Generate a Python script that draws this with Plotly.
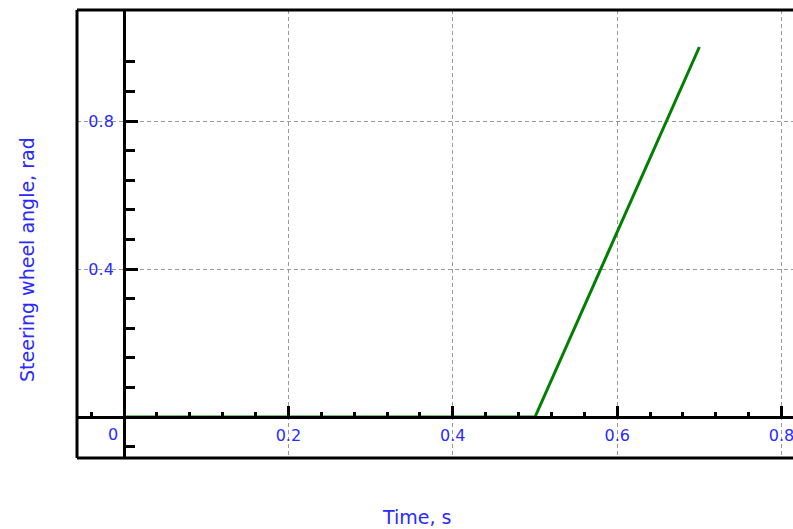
import plotly.graph_objects as go

# Data
time_s = [0.0, 0.5, 0.7]
steer_angle_rad = [0.0, 0.0, 1.0]

x_tick_vals = [0.2, 0.4, 0.6, 0.8]
x_tick_text = ["0.2", "0.4", "0.6", "0.8"]
y_tick_vals = [0.4, 0.8]
y_tick_text = ["0.4", "0.8"]
x_minor_ticks = [-0.04, 0.04, 0.08, 0.12, 0.16, 0.24, 0.28, 0.32, 0.36,
                 0.44, 0.48, 0.52, 0.56, 0.64, 0.68, 0.72, 0.76]
y_minor_ticks = [-0.08, 0.08, 0.16, 0.24, 0.32, 0.48, 0.56, 0.64, 0.72, 0.88, 0.96]

x_title = "Time, s"
y_title = "Steering wheel angle, rad"

W, H = 793, 529
L, R, T, B = 77, 0, 10, 71
X_RANGE = [-0.0572, 0.8139]
Y_RANGE = [-0.1108, 1.1]

blue = "#2a2aff"
tick_font = dict(family="DejaVu Sans", size=16, color=blue)
title_font = dict(family="DejaVu Sans", size=19, color=blue)

fig = go.Figure()
fig.add_trace(go.Scatter(
    x=time_s, y=steer_angle_rad, mode="lines",
    line=dict(color="#008000", width=3), showlegend=False, hoverinfo="skip",
))

pw = W - L - R
ph = H - T - B
# paper positions of the zero axes
y_axis_pos = (0 - X_RANGE[0]) / (X_RANGE[1] - X_RANGE[0])
x_axis_pos = (0 - Y_RANGE[0]) / (Y_RANGE[1] - Y_RANGE[0])

fig.update_layout(
    width=W, height=H,
    margin=dict(l=L, r=R, t=T, b=B, pad=0),
    paper_bgcolor="white", plot_bgcolor="white",
    xaxis=dict(
        range=X_RANGE, anchor="free", position=x_axis_pos,
        showline=True, linecolor="black", linewidth=3,
        ticks="inside", ticklen=10, tickwidth=3, tickcolor="black",
        tickmode="array", tickvals=x_tick_vals, ticktext=x_tick_text,
        tickfont=tick_font, ticklabelstandoff=3, ticklabeloverflow="allow",
        showgrid=True, gridcolor="#9a9a9a", gridwidth=1, griddash="4px,3px",
        zeroline=False,
        minor=dict(tickmode="array", tickvals=x_minor_ticks, ticks="inside",
                   ticklen=4, tickwidth=3, tickcolor="black", showgrid=False),
    ),
    yaxis=dict(
        range=Y_RANGE, anchor="free", position=y_axis_pos,
        showline=True, linecolor="black", linewidth=3,
        ticks="inside", ticklen=12, tickwidth=3, tickcolor="black",
        tickmode="array", tickvals=y_tick_vals, ticktext=y_tick_text,
        tickfont=tick_font, ticklabelstandoff=6, ticklabeloverflow="allow",
        showgrid=True, gridcolor="#9a9a9a", gridwidth=1, griddash="4px,3px",
        zeroline=False,
        minor=dict(tickmode="array", tickvals=y_minor_ticks, ticks="inside",
                   ticklen=9, tickwidth=3, tickcolor="black", showgrid=False),
    ),
    shapes=[
        dict(type="line", xref="paper", yref="paper", x0=0, x1=0, y0=0, y1=1,
             line=dict(color="black", width=3)),
        dict(type="line", xref="paper", yref="paper", x0=0, x1=1.01, y0=1, y1=1,
             line=dict(color="black", width=3)),
        dict(type="line", xref="paper", yref="paper", x0=0, x1=1.01, y0=0, y1=0,
             line=dict(color="black", width=3)),
    ],
    annotations=[
        dict(text=x_title, xref="paper", yref="paper",
             x=(416 - L) / pw, y=(H - B - 517) / ph,
             xanchor="center", yanchor="middle", showarrow=False, font=title_font),
        dict(text=y_title, xref="paper", yref="paper",
             x=(27 - L) / pw, y=(H - B - 260) / ph, textangle=-90,
             xanchor="center", yanchor="middle", showarrow=False, font=title_font),
        dict(text="0", xref="paper", yref="paper",
             x=(113 - L) / pw, y=(H - B - 434) / ph,
             xanchor="center", yanchor="middle", showarrow=False, font=tick_font),
    ],
)

fig.write_html("out.html", config={"displayModeBar": False},
               post_script="document.body.style.margin='0';")
